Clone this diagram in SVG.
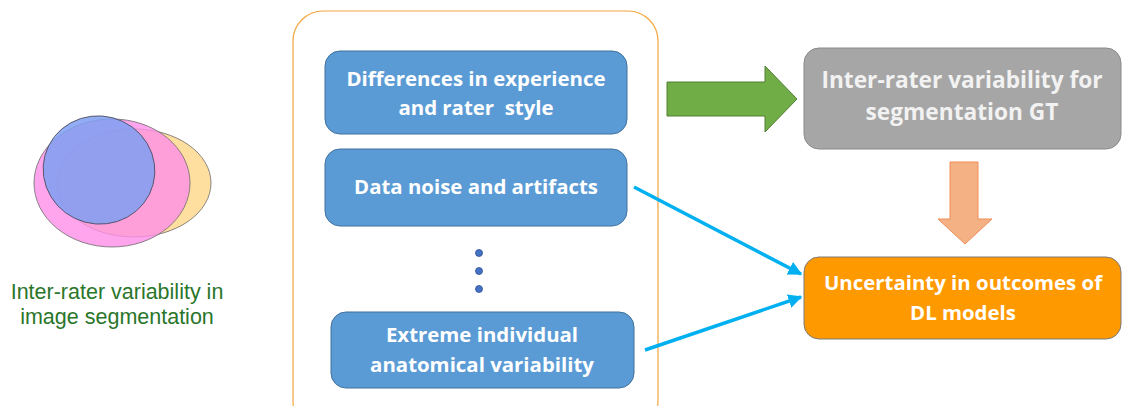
<svg xmlns="http://www.w3.org/2000/svg" width="1122" height="406" viewBox="0 0 1122 406">
<defs>
<style>
.box{fill:#5b9bd5;stroke:#41719c;stroke-width:1}
.bt{font-family:"Open Sans",Lato,"Liberation Sans",sans-serif;font-weight:bold;fill:#ffffff;text-anchor:middle;white-space:pre}
.cap{font-family:"Liberation Sans",Arial,sans-serif;font-size:21.5px;fill:#2a762a;text-anchor:middle}
.conn{stroke:#00b0f0;stroke-width:3.5;fill:none}
</style>
<marker id="ah" viewBox="0 0 10 10" refX="9" refY="5" markerWidth="4" markerHeight="4" orient="auto" markerUnits="strokeWidth">
<path d="M0,0 L10,5 L0,10 z" fill="#00b0f0"/>
</marker>
</defs>
<rect width="1122" height="406" fill="#ffffff"/>

<g id="venn">
<ellipse cx="134" cy="183" rx="77" ry="54" fill="#ffd98f" fill-opacity="0.85" stroke="#6b6b6b" stroke-width="0.8"/>
<ellipse cx="112" cy="183" rx="78" ry="64" fill="#ff8ee8" fill-opacity="0.8" stroke="#6b6b6b" stroke-width="0.8"/>
<ellipse cx="99" cy="170" rx="56" ry="54" fill="#7f9ff2" fill-opacity="0.85" stroke="#4a4a5a" stroke-width="0.8" transform="rotate(15 99 170)"/>
</g>
<g id="caption">
<text class="cap" x="117" y="299">Inter-rater variability in</text>
<text class="cap" x="117" y="324">image segmentation</text>
</g>

<g id="container">
<rect x="293" y="11" width="365" height="420" rx="30" fill="none" stroke="#f4a640" stroke-width="1.2"/>
</g>

<g id="n1">
<rect class="box" x="325" y="51" width="302" height="83" rx="15"/>
<text class="bt" font-size="20.4" x="476" y="86">Differences in experience</text>
<text class="bt" font-size="20.4" x="476" y="115" xml:space="preserve">and rater  style</text>
</g>
<g id="n2">
<rect class="box" x="325" y="149" width="302" height="77" rx="15"/>
<text class="bt" font-size="20.4" x="476" y="194">Data noise and artifacts</text>
</g>
<g id="dots">
<circle cx="479" cy="253" r="3.5" fill="#4472c4" stroke="#2f528f" stroke-width="0.8"/>
<circle cx="479" cy="271" r="3.5" fill="#4472c4" stroke="#2f528f" stroke-width="0.8"/>
<circle cx="479" cy="289" r="3.5" fill="#4472c4" stroke="#2f528f" stroke-width="0.8"/>
</g>
<g id="n3">
<rect class="box" x="331" y="312" width="303" height="76" rx="15"/>
<text class="bt" font-size="20.4" x="482" y="342">Extreme individual</text>
<text class="bt" font-size="20.4" x="482" y="372">anatomical variability</text>
</g>

<g id="n4">
<rect x="804" y="48" width="317" height="101" rx="15" fill="#a6a6a6" stroke="#8a8a8a" stroke-width="1"/>
<text class="bt" font-size="22.7" x="962" y="88" style="fill:#f2f2f2">Inter-rater variability for</text>
<text class="bt" font-size="22.7" x="962" y="120" style="fill:#f2f2f2">segmentation GT</text>
</g>
<g id="n5">
<rect x="804" y="257" width="317" height="82" rx="15" fill="#ff9900" stroke="#7a7a7a" stroke-width="1"/>
<text class="bt" font-size="20.4" x="963" y="290">Uncertainty in outcomes of</text>
<text class="bt" font-size="20.4" x="963" y="320">DL models</text>
</g>

<g id="connectors">
<path d="M667,82 L765,82 L765,66 L797,99 L765,132 L765,116 L667,116 z" fill="#70ad47" stroke="#507e32" stroke-width="1"/>
<path d="M950,162 L978,162 L978,219 L992,219 L965,244 L938,219 L950,219 z" fill="#f4b183" stroke="#f08e59" stroke-width="1"/>
<line class="conn" x1="634" y1="187" x2="801" y2="274" marker-end="url(#ah)"/>
<line class="conn" x1="645" y1="350" x2="801" y2="297" marker-end="url(#ah)"/>
</g>
</svg>
